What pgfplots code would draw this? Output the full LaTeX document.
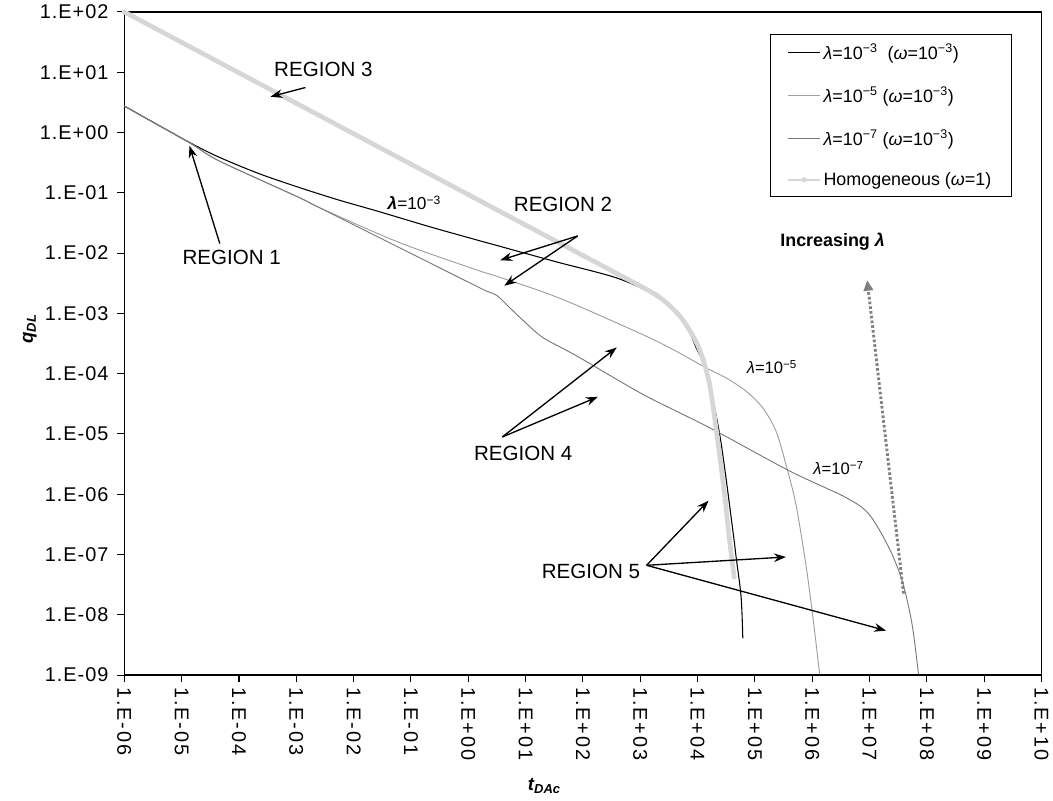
\documentclass[border=0pt]{standalone}
\usepackage{fontspec}
\setmainfont{Liberation Sans}
\newfontfamily\spacedfont[LetterSpace=10]{Liberation Sans}
\newfontfamily\yfont[LetterSpace=5]{Liberation Sans}
\usepackage{pgfplots}
\pgfplotsset{compat=1.18}
\usetikzlibrary{arrows.meta}
\definecolor{homog}{rgb}{0.84,0.84,0.84}
\definecolor{lamfive}{rgb}{0.62,0.62,0.62}
\definecolor{lamseven}{rgb}{0.47,0.47,0.47}
\definecolor{incr}{rgb}{0.5,0.5,0.5}
\newcommand{\lam}{\textit{λ}}
\newcommand{\om}{\textit{ω}}
\newcommand{\mn}{−}
\begin{document}
\begin{tikzpicture}
\begin{axis}[
  scale only axis, width=691.5pt, height=500pt,
  xmode=log, ymode=log,
  xmin=1e-6, xmax=1e10, ymin=1e-9, ymax=1e2,
  xtick={1e-6,1e-5,1e-4,1e-3,1e-2,1e-1,1,1e1,1e2,1e3,1e4,1e5,1e6,1e7,1e8,1e9,1e10},
  xticklabels={1.E-06,1.E-05,1.E-04,1.E-03,1.E-02,1.E-01,1.E+00,1.E+01,1.E+02,1.E+03,1.E+04,1.E+05,1.E+06,1.E+07,1.E+08,1.E+09,1.E+10},
  ytick={1e-9,1e-8,1e-7,1e-6,1e-5,1e-4,1e-3,1e-2,1e-1,1,1e1,1e2},
  yticklabels={1.E-09,1.E-08,1.E-07,1.E-06,1.E-05,1.E-04,1.E-03,1.E-02,1.E-01,1.E+00,1.E+01,1.E+02},
  xminorticks=false, yminorticks=false,
  tick pos=left, tick align=outside, major tick length=5.5pt,
  every tick/.style={black, line width=0.8pt},
  axis line style={line width=1pt, black},
  x tick label style={rotate=-90, anchor=west, font=\spacedfont\fontsize{15}{15}\selectfont},
  y tick label style={xshift=-3pt, font=\yfont\fontsize{15}{15}\selectfont},
  xlabel={\bfseries\itshape t\textsubscript{DAc}},
  ylabel={\bfseries\itshape q\textsubscript{DL}},
  xlabel style={at={(rel axis cs:0.458,-0.167)}, anchor=center, font=\fontsize{14}{15}\selectfont},
  ylabel style={at={(rel axis cs:-0.103,0.522)}, anchor=center, rotate=0, font=\fontsize{14}{15}\selectfont},
  legend style={at={(rel axis cs:0.9675,0.967)}, anchor=north east, draw=black, line width=0.8pt, fill=white,
    font=\fontsize{13.5}{16}\selectfont, row sep=15pt, inner xsep=13pt, inner ysep=5pt,
    /tikz/every even column/.append style={column sep=5pt}},
  legend cell align=left,
  legend image code/.code={\draw[mark repeat=2,mark phase=2,#1] plot coordinates {(0pt,0pt) (12pt,0pt) (24pt,0pt)};},
]
% lambda = 1e-3 (omega = 1e-3)
\addplot[black, line width=0.8pt, smooth, tension=0.5] coordinates {
(1e-6,2.748) (1.343e-5,0.6918) (4.457e-5,0.3913) (2.203e-4,0.2090) (1.089e-3,0.1237)
(5.383e-3,0.07634) (0.02661,0.04932) (0.2213,0.02706) (1.449,0.01639) (3.221,0.01330)
(35.40,7.105e-3) (389.0,3.868e-3) (1923,1.952e-3) (4276,1.042e-3) (6383,6.362e-4)
(9506,2.655e-4) (14190,1.096e-4) (24830,8.69e-6) (41210,2.508e-7) (46990,9.10e-8)
(57410,1.991e-8) (61520,4.08e-9)};
\addlegendentry{\lam=10\textsuperscript{\mn3}\ \ (\om=10\textsuperscript{\mn3})}
% lambda = 1e-5
\addplot[lamfive, line width=0.7pt, smooth, tension=0.5] coordinates {
(1e-6,2.748) (1.343e-5,0.6839) (4.457e-5,0.3399) (1.089e-3,0.08458) (2.421e-3,0.05785)
(0.05916,0.01530) (1.449,5.201e-3) (3.221,4.094e-3) (39.90,1.775e-3) (1130,4.401e-4)
(4276,2.342e-4) (14190,1.242e-4) (31550,8.49e-5) (70150,5.128e-5) (136800,2.716e-5)
(232800,1.122e-5) (346700,3.148e-6) (517600,6.89e-7) (771000,7.05e-8) (1.009e6,1.054e-8)
(1.349e6,1.028e-9)};
\addlegendentry{\lam=10\textsuperscript{\mn5} (\om=10\textsuperscript{\mn3})}
% lambda = 1e-7
\addplot[lamseven, line width=0.7pt, smooth, tension=0.5] coordinates {
(1e-6,2.748) (1.343e-5,0.6839) (4.457e-5,0.3399) (1.089e-3,0.08458) (2.421e-3,0.05785)
(0.05916,0.01266) (1.449,2.768e-3) (2.158,2.316e-3) (3.221,1.952e-3) (5.408,1.214e-3)
(10.67,6.607e-4) (20.80,3.882e-4) (78.70,1.959e-4) (1130,4.501e-5) (16180,1.271e-5)
(396300,2.451e-6) (3.811e6,8.89e-7) (9.683e6,4.713e-7) (2.153e7,1.33e-7) (3.673e7,3.75e-8)
(5.483e7,7.21e-9) (7.145e7,1.028e-9)};
\addlegendentry{\lam=10\textsuperscript{\mn7} (\om=10\textsuperscript{\mn3})}
% homogeneous
\addplot[homog, line width=3.5pt, smooth, tension=0.5, mark=*, mark size=1.8pt,
  mark options={fill=homog, draw=homog, line width=0.2pt},
  legend image post style={line width=1.2pt}] coordinates {
(1e-6,100) (1e-5,31.26) (1e-4,9.77) (1e-3,3.055) (1e-2,0.955) (0.1,0.2985) (1,0.0933)
(10,0.02917) (100,9.12e-3) (389,4.59e-3) (1923,2.0e-3) (4276,1.042e-3) (6383,6.362e-4)
(9506,3.334e-4) (12590,1.683e-4) (16000,7.02e-5) (18750,2.716e-5) (22030,8.69e-6)
(25820,2.78e-6) (30340,7.93e-7) (35560,1.945e-7) (43450,4.26e-8)};
\addlegendentry{Homogeneous (\om=1)}

% annotations
\tikzset{ann/.style={-{Stealth[length=9pt,width=6.5pt]}, line width=1pt, black}}
\node[font=\fontsize{15.5}{16}\selectfont] at (rel axis cs:0.217,0.914) {REGION 3};
\draw[ann] (rel axis cs:0.1974,0.886) -- (rel axis cs:0.1593,0.8722);
\node[font=\fontsize{15.5}{16}\selectfont] at (rel axis cs:0.1171,0.6296) {REGION 1};
\draw[ann] (rel axis cs:0.1041,0.6506) -- (rel axis cs:0.0710,0.7981);
\node[font=\fontsize{13}{13}\selectfont] at (rel axis cs:0.3162,0.7121) {\textbf{\textit{λ}}=10\textsuperscript{\mn3}};
\node[font=\fontsize{15.5}{16}\selectfont] at (rel axis cs:0.4783,0.7091) {REGION 2};
\draw[ann] (rel axis cs:0.4942,0.6622) -- (rel axis cs:0.4098,0.6256);
\draw[ann] (rel axis cs:0.4942,0.6622) -- (rel axis cs:0.4143,0.5872);
\node[font=\fontsize{15.5}{16}\selectfont] at (rel axis cs:0.4349,0.3348) {REGION 4};
\draw[ann] (rel axis cs:0.4121,0.3591) -- (rel axis cs:0.5369,0.4941);
\draw[ann] (rel axis cs:0.4121,0.3591) -- (rel axis cs:0.5163,0.4196);
\node[font=\fontsize{15.5}{16}\selectfont] at (rel axis cs:0.5087,0.1571) {REGION 5};
\draw[ann] (rel axis cs:0.5694,0.1656) -- (rel axis cs:0.6370,0.2631);
\draw[ann] (rel axis cs:0.5694,0.1656) -- (rel axis cs:0.7213,0.1781);
\draw[ann] (rel axis cs:0.5694,0.1656) -- (rel axis cs:0.8305,0.0671);
\node[font=\fontsize{12.5}{13}\selectfont] at (rel axis cs:0.7061,0.4646) {\lam=10\textsuperscript{\mn5}};
\node[font=\fontsize{12.5}{13}\selectfont] at (rel axis cs:0.7787,0.3123) {\lam=10\textsuperscript{\mn7}};
\node[font=\fontsize{13.5}{14}\selectfont] at (rel axis cs:0.7722,0.6536) {\textbf{Increasing \textit{λ}}};
\draw[incr, line width=2.2pt, dash pattern=on 2pt off 1.6pt, -{Triangle[length=8pt,width=7pt,fill=incr]}]
  (rel axis cs:0.8496,0.1230) -- (rel axis cs:0.8099,0.5956);
\end{axis}
\path ([shift={(-93.75pt,-94.5pt)}]current axis.south west) rectangle ([shift={(4.5pt,9pt)}]current axis.north east);
\end{tikzpicture}
\end{document}
